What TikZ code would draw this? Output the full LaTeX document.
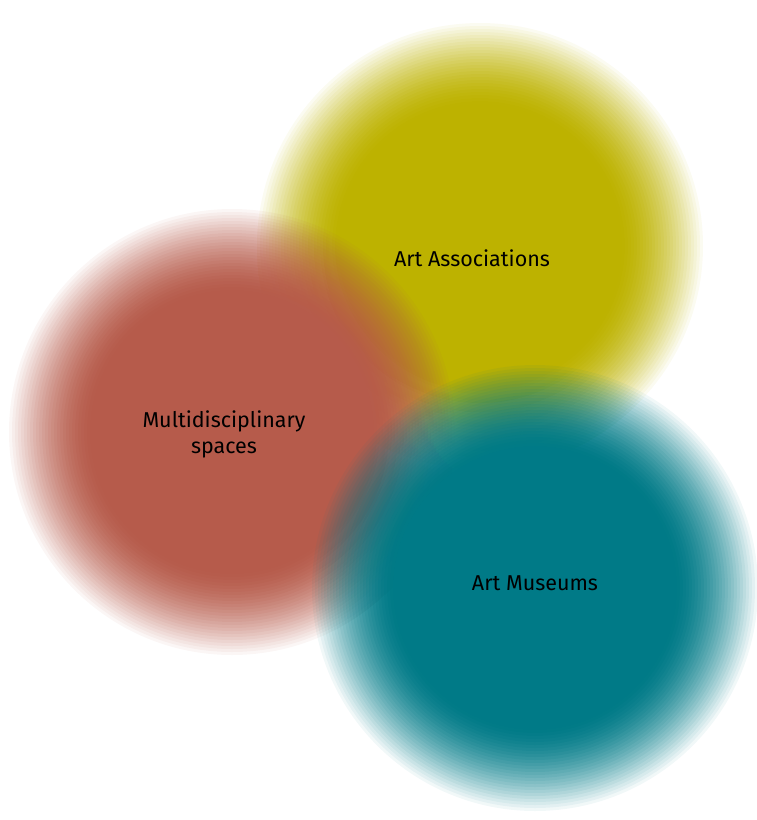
\documentclass[tikz,border=0pt]{standalone}
\usepackage{fontspec}
\setmainfont{Fira Sans}
\usetikzlibrary{positioning}
\definecolor{assocyellow}{RGB}{189,178,0}
\definecolor{multired}{RGB}{182,91,75}
\definecolor{museumteal}{RGB}{0,122,135}
\tikzset{
    textlabel/.style={font=\fontsize{21.5}{26}\selectfont, text=black, align=center, inner sep=0pt}
}
% soft disc: stacked discs, each a bit more opaque, and a solid core
\newcommand{\softdisc}[2]{%
    \foreach \k in {0,...,\nlast}{
        \pgfmathsetmacro{\rr}{\Rc+(\nsteps-\k)*\dr}
        \pgfmathsetmacro{\op}{1-((\nsteps-\k)/(\nsteps+1-\k))^1.6}
        \fill[#1, fill opacity=\op] (#2) circle[radius=\rr];
    }
    \fill[#1] (#2) circle[radius=\Rc];
}
\begin{document}
\begin{tikzpicture}[x=1pt, y=1pt]
    \def \Rc {142}
    \def \dr {3}
    \def \nsteps {27}
    \def \nlast {26}
    \useasboundingbox (0,0) rectangle (756,-820);
    \coordinate (assoc) at (480,-246);
    \coordinate (multi) at (232,-432);
    \coordinate (museum) at (535,-588);
    % soft discs
    \softdisc{assocyellow}{assoc}
    \softdisc{multired}{multi}
    \softdisc{museumteal}{museum}
    % labels
    \node[textlabel] (assoclabel) at (472,-258) {Art Associations};
    \node[textlabel] (multilabel) at (224,-434) {Multidisciplinary\\spaces};
    \node[textlabel] (museumlabel) at (535,-583) {Art Museums};
\end{tikzpicture}
\end{document}
